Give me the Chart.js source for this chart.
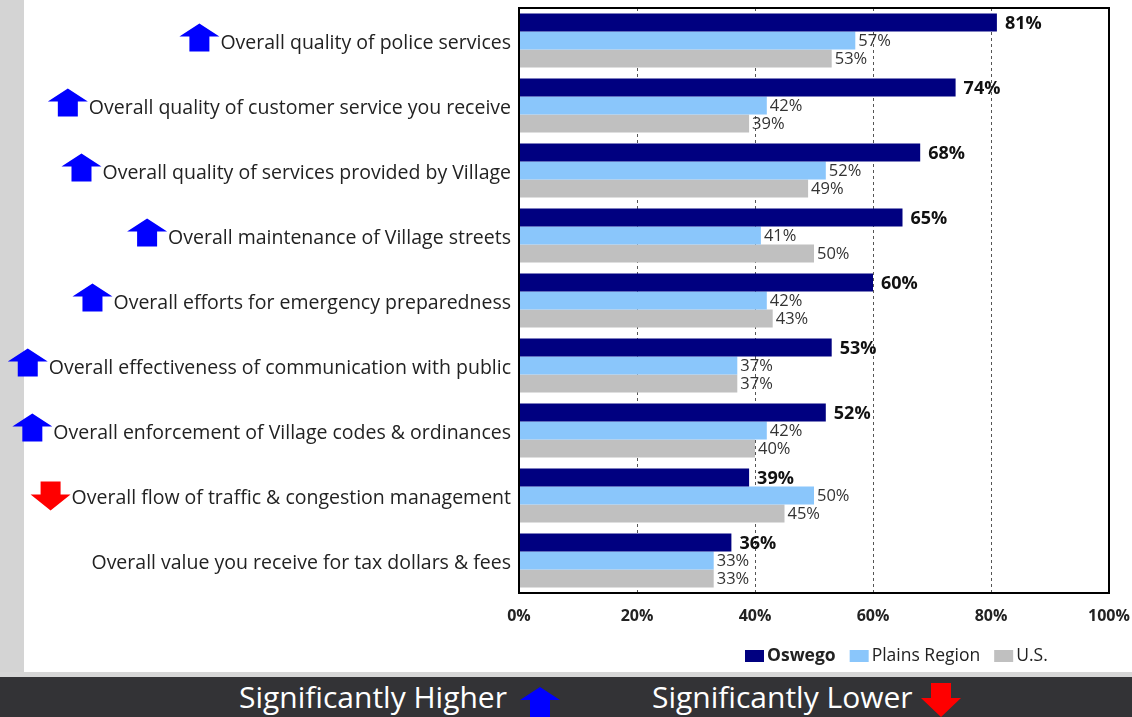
<!DOCTYPE html>
<html>
<head>
<meta charset="utf-8">
<script src="https://cdn.jsdelivr.net/npm/chart.js@4"></script>
<style>
  html, body { margin: 0; padding: 0; width: 1132px; height: 717px; overflow: hidden; background: #fff; }
  #side { position: absolute; left: 0; top: 0; width: 24px; height: 672px; background: #d4d4d4; }
  #wrap { position: absolute; left: 0; top: 0; width: 1132px; height: 672px; }
  #strip { position: absolute; left: 0; top: 672px; width: 1132px; height: 5px; background: #d6d6d6; }
  #band { position: absolute; left: 0; top: 677px; width: 1132px; height: 40px; background: #333336; overflow: hidden;
          font-family: "Open Sans", sans-serif; color: #fff; font-size: 30px; }
  #band span { position: absolute; top: 0; line-height: 40px; white-space: nowrap; }
  #band svg { position: absolute; top: 0; }
</style>
</head>
<body>
<div id="side"></div>
<div id="wrap"><canvas id="myChart" width="1132" height="672"></canvas></div>
<div id="strip"></div>
<div id="band">
  <span style="left:239px">Significantly Higher</span>
  <svg style="left:518px" width="44" height="40"><polygon points="22,10 42,23 32,23 32,40 12,40 12,23 2,23" fill="#0000ff"/></svg>
  <span style="left:652px">Significantly Lower</span>
  <svg style="left:919px" width="44" height="40"><polygon points="12,6 32,6 32,21 42,21 22,40 2,21 12,21" fill="#ff0000"/></svg>
</div>
<script>
const categories = [
  'Overall quality of police services',
  'Overall quality of customer service you receive',
  'Overall quality of services provided by Village',
  'Overall maintenance of Village streets',
  'Overall efforts for emergency preparedness',
  'Overall effectiveness of communication with public',
  'Overall enforcement of Village codes & ordinances',
  'Overall flow of traffic & congestion management',
  'Overall value you receive for tax dollars & fees'
];
const oswego = [81, 74, 68, 65, 60, 53, 52, 39, 36];
const plains = [57, 42, 52, 41, 42, 37, 42, 50, 33];
const us = [53, 39, 49, 50, 43, 37, 40, 45, 33];
// 'up' = significantly higher, 'down' = significantly lower
const significance = ['up', 'up', 'up', 'up', 'up', 'up', 'up', 'down', null];
const xTicks = [0, 20, 40, 60, 80, 100];

const FONT = '"Open Sans", sans-serif';
const LABEL_SIZE = 19.5;

// value labels at the end of each bar
const valueLabels = {
  id: 'valueLabels',
  afterDatasetsDraw(chart) {
    const ctx = chart.ctx;
    ctx.save();
    ctx.textBaseline = 'middle';
    chart.data.datasets.forEach((ds, i) => {
      const meta = chart.getDatasetMeta(i);
      const bold = i === 0;
      ctx.font = (bold ? 'bold 18px ' : '16.5px ') + FONT;
      ctx.fillStyle = bold ? '#111' : '#333';
      meta.data.forEach((bar, j) => {
        ctx.fillText(ds.data[j] + '%', bar.x + (bold ? 8 : 3), bar.y + 1);
      });
    });
    // plot frame
    const a = chart.chartArea;
    ctx.strokeStyle = '#000';
    ctx.lineWidth = 2;
    ctx.strokeRect(a.left, a.top, a.right - a.left, a.bottom - a.top);
    ctx.restore();
  }
};

// blue / red arrows in front of the category labels
const sigArrows = {
  id: 'sigArrows',
  afterDraw(chart) {
    const ctx = chart.ctx;
    const yScale = chart.scales.y;
    ctx.save();
    ctx.font = LABEL_SIZE + 'px ' + FONT;
    significance.forEach((s, i) => {
      if (!s) return;
      const w = ctx.measureText(categories[i]).width;
      const right = chart.chartArea.left - 8 - w - 1;
      const cy = yScale.getPixelForValue(i) - 3;
      const l = right - 40, c = right - 20;
      ctx.beginPath();
      if (s === 'up') {
        ctx.fillStyle = '#0000ff';
        ctx.moveTo(c, cy - 14);
        ctx.lineTo(right, cy - 1);
        ctx.lineTo(c + 10, cy - 1);
        ctx.lineTo(c + 10, cy + 14);
        ctx.lineTo(c - 10, cy + 14);
        ctx.lineTo(c - 10, cy - 1);
        ctx.lineTo(l, cy - 1);
      } else {
        ctx.fillStyle = '#ff0000';
        ctx.moveTo(c - 10, cy - 11);
        ctx.lineTo(c + 10, cy - 11);
        ctx.lineTo(c + 10, cy + 2);
        ctx.lineTo(right, cy + 2);
        ctx.lineTo(c, cy + 18);
        ctx.lineTo(l, cy + 2);
        ctx.lineTo(c - 10, cy + 2);
      }
      ctx.closePath();
      ctx.fill();
    });
    ctx.restore();
  }
};

// legend row under the axis, series name of Oswego in bold
const legendRow = {
  id: 'legendRow',
  afterDraw(chart) {
    const ctx = chart.ctx;
    ctx.save();
    ctx.textBaseline = 'middle';
    let x = 745;
    const y = 656;
    chart.data.datasets.forEach((ds, i) => {
      ctx.fillStyle = ds.backgroundColor;
      ctx.fillRect(x, y - 6, 19, 12);
      x += 22;
      ctx.font = (i === 0 ? 'bold 17.5px ' : '17.5px ') + FONT;
      ctx.fillStyle = '#222';
      ctx.fillText(ds.label, x, y);
      x += ctx.measureText(ds.label).width + 14;
    });
    ctx.restore();
  }
};

const ctx = document.getElementById('myChart').getContext('2d');
const myChart = new Chart(ctx, {
  type: 'bar',
  data: {
    labels: categories,
    datasets: [
      { label: 'Oswego', data: oswego, backgroundColor: '#000080' },
      { label: 'Plains Region', data: plains, backgroundColor: '#8ac6fb' },
      { label: 'U.S.', data: us, backgroundColor: '#c0c0c0' }
    ]
  },
  options: {
    indexAxis: 'y',
    responsive: false,
    animation: false,
    categoryPercentage: 0.83,
    barPercentage: 1.0,
    layout: { padding: { top: 8, right: 23, left: 0, bottom: 0 } },
    plugins: {
      legend: { display: false },
      tooltip: { enabled: false }
    },
    scales: {
      x: {
        min: 0,
        max: 100,
        afterBuildTicks(scale) {
          scale.ticks = xTicks.map(v => ({ value: v }));
        },
        afterFit(scale) {
          scale.height = 79;
          scale.paddingLeft = 0;
          scale.paddingRight = 0;
        },
        ticks: {
          padding: 14,
          color: '#222',
          font: { family: FONT, size: 16, weight: 'bold' },
          callback: v => v + '%'
        },
        grid: { color: '#555', lineWidth: 1, drawTicks: false },
        border: { display: false, dash: [3, 3] }
      },
      y: {
        afterFit(scale) {
          scale.width = 519;
          scale.paddingTop = 0;
          scale.paddingBottom = 0;
        },
        ticks: {
          padding: 8,
          labelOffset: 3,
          color: '#222',
          font: { family: FONT, size: LABEL_SIZE }
        },
        grid: { display: false, drawTicks: false },
        border: { display: false }
      }
    }
  },
  plugins: [valueLabels, sigArrows, legendRow]
});
</script>
</body>
</html>
